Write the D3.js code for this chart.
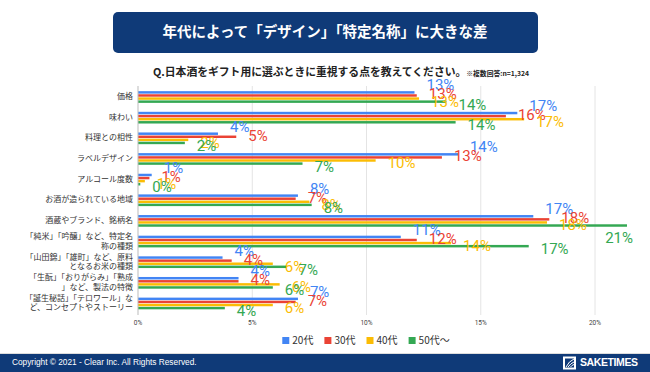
<!DOCTYPE html>
<html><head><meta charset="utf-8">
<script src="https://cdn.jsdelivr.net/npm/d3@7"></script>
<style>body{margin:0;background:#fff}svg{display:block}</style>
</head><body>
<script>
const categories = ["価格","味わい","料理との相性","ラベルデザイン","アルコール度数","お酒が造られている地域","酒蔵やブランド、銘柄名","「純米」「吟醸」など、特定名\n称の種類","「山田錦」「雄町」など、原料\nとなるお米の種類","「生酛」「おりがらみ」「熟成\n」など、製法の特徴","「誕生秘話」「テロワール」な\nど、コンセプトやストーリー"];
const seriesNames = ["20代","30代","40代","50代〜"];
const v20 = [12.1,16.6,3.5,14.0,0.6,7.0,17.3,11.5,3.7,4.4,7.0];
const v30 = [12.2,16.1,4.3,13.3,0.5,6.9,18.0,12.2,4.1,4.4,6.9];
const v40 = [12.3,16.9,2.2,10.4,0.3,7.5,17.9,13.7,5.9,6.2,5.9];
const v50 = [13.5,13.9,2.05,7.2,0.1,7.6,21.4,17.1,6.5,5.9,3.8];
const lab20 = [13,17,4,14,1,8,17,11,4,4,7];
const lab30 = [13,16,5,13,1,7,18,12,4,4,7];
const lab40 = [13,17,2,10,1,8,18,14,6,6,6];
const lab50 = [14,14,2,7,0,8,21,17,7,6,4];
const xTicks = [0,5,10,15,20];
const colors = ["#4285F4","#EA4335","#FBBC04","#34A853"];
const values = [v20,v30,v40,v50];
const labels = [lab20,lab30,lab40,lab50];

const W=650,H=372;
const svg=d3.select("body").append("svg").attr("width",W).attr("height",H);
const jp="'Noto Sans CJK JP','Noto Sans',sans-serif";

// Title box
svg.append("rect").attr("x",113).attr("y",12).attr("width",425).attr("height",41).attr("rx",5).attr("fill","#0f3a78");
svg.append("text").attr("x",325).attr("y",33).attr("text-anchor","middle").attr("dominant-baseline","middle")
  .attr("fill","#fff").attr("font-family",jp).attr("font-weight","bold").attr("font-size",14.5)
  .text("年代によって「デザイン」「特定名称」に大きな差");

// Subtitle
const st=svg.append("text").attr("x",153).attr("y",76).attr("font-family",jp).attr("font-weight","bold").attr("fill","#222");
st.append("tspan").attr("font-size",10.8).text("Q.日本酒をギフト用に選ぶときに重視する点を教えてください。");
st.append("tspan").attr("font-size",6.8).text("※複数回答:n=1,324");

const x=d3.scaleLinear().domain([0,20]).range([138,595]);
const y=d3.scaleBand().domain(categories).range([86.7,313.8]).paddingInner(0);
const yi=d3.scaleBand().domain(d3.range(4)).range([0,y.bandwidth()]).paddingInner(0.2).paddingOuter(1.45);

// gridlines
svg.append("g").selectAll("line").data(xTicks.slice(1)).join("line")
  .attr("x1",d=>x(d)).attr("x2",d=>x(d)).attr("y1",86).attr("y2",315)
  .attr("stroke","#e4e4e4").attr("stroke-width",1);
// tick labels
svg.append("g").selectAll("text").data(xTicks).join("text")
  .attr("x",d=>x(d)).attr("y",325).attr("text-anchor","middle")
  .attr("font-family","Roboto,sans-serif").attr("font-size",6.5).attr("fill","#444")
  .text(d=>d+"%");

// bars
values.forEach((vals,si)=>{
  svg.append("g").selectAll("rect").data(categories).join("rect")
    .attr("x",x(0)).attr("y",(c)=>y(c)+yi(si))
    .attr("width",(c,i)=>x(vals[i])-x(0)).attr("height",yi.bandwidth())
    .attr("fill",colors[si]);
});
// zero axis
svg.append("line").attr("x1",x(0)).attr("x2",x(0)).attr("y1",86).attr("y2",315).attr("stroke","#bbb").attr("stroke-width",1);

// data labels
const dyOff=[-6,0,4,4];
values.forEach((vals,si)=>{
  svg.append("g").selectAll("text").data(categories).join("text")
    .each(function(c,i){
      const t=labels[si][i]+"%";
      let lx=x(vals[i])+12, ly=y(c)+yi(si)+yi.bandwidth()/2+dyOff[si], anchor="start";
      if(lx+30>646){lx=x(vals[i])+6;anchor="end";ly+=10;}
      d3.select(this).attr("x",lx).attr("y",ly).attr("text-anchor",anchor)
        .attr("dominant-baseline","middle").attr("font-family","Roboto,sans-serif")
        .attr("font-size",15).attr("fill",colors[si]).text(t);
    });
});

// category labels
svg.append("g").selectAll("text").data(categories).join("text")
  .attr("text-anchor","end").attr("font-family",jp).attr("font-size",8).attr("fill","#333")
  .each(function(c){
    const lines=c.split("\n");
    const cy=y(c)+y.bandwidth()/2;
    const t=d3.select(this);
    lines.forEach((ln,k)=>{
      t.append("tspan").attr("x",133).attr("y",cy+(k-(lines.length-1)/2)*9.6).attr("dominant-baseline","middle").text(ln);
    });
  });

// legend
const lg=svg.append("g");
let lx=0;
seriesNames.forEach((n,i)=>{
  const g=lg.append("g").attr("transform",`translate(${lx},0)`);
  g.append("rect").attr("x",0).attr("y",-4).attr("width",7).attr("height",7).attr("fill",colors[i]);
  const tx=g.append("text").attr("x",10).attr("y",0).attr("dominant-baseline","middle")
    .attr("font-family","'Noto Sans CJK JP',sans-serif").attr("font-size",10).attr("fill","#333").text(n);
  const w=tx.node().getComputedTextLength();
  lx+=10+w+11;
});
const totalW=lx-11;
lg.attr("transform",`translate(${366-totalW/2},341)`);

// footer
svg.append("line").attr("x1",0).attr("x2",W).attr("y1",353.5).attr("y2",353.5).attr("stroke","#ddd");
svg.append("rect").attr("x",0).attr("y",354).attr("width",W).attr("height",18).attr("fill","#0f3a78");
svg.append("text").attr("x",12).attr("y",363).attr("dominant-baseline","middle")
  .attr("font-family","'Liberation Sans',Arial,sans-serif").attr("font-size",8.3).attr("fill","#fff")
  .text("Copyright © 2021 - Clear Inc. All Rights Reserved.");
svg.append("rect").attr("x",563).attr("y",356.5).attr("width",13).attr("height",13).attr("fill","#fff");
svg.append("rect").attr("x",565).attr("y",358.5).attr("width",9).attr("height",9).attr("fill","#0f3a78");
svg.append("path").attr("d","M566,367 Q569,361 574,359 M568,367 Q571,363 574,362 M570.5,367 Q572,365 574,364.5").attr("stroke","#fff").attr("stroke-width",1).attr("fill","none");
svg.append("text").attr("x",580).attr("y",363.5).attr("dominant-baseline","middle")
  .attr("font-family","'Liberation Sans',Arial,sans-serif").attr("font-weight","bold").attr("font-size",10.5).attr("fill","#fff")
  .attr("textLength",58).text("SAKETIMES");
</script>
</body></html>
